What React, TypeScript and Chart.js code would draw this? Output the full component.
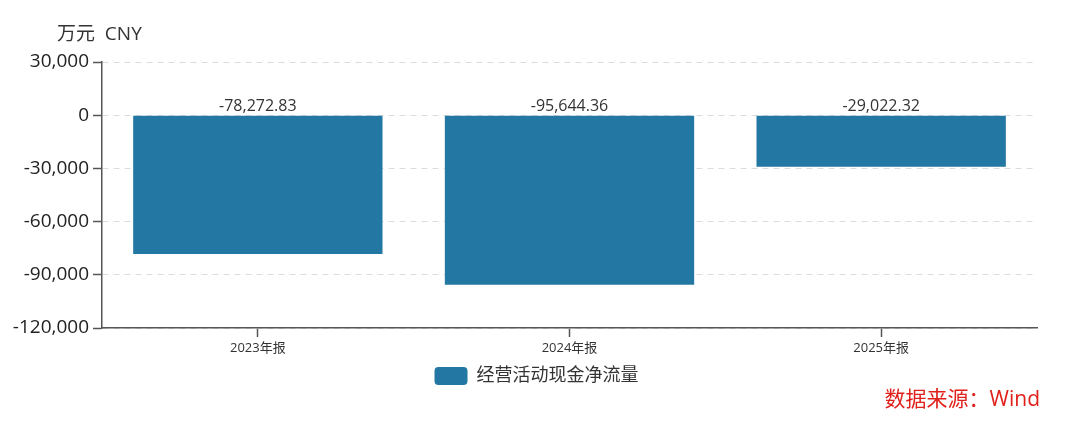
import React, { useEffect, useRef } from "react";
import { Chart, registerables } from "chart.js";

Chart.register(...registerables);

const categories = ["2023年报", "2024年报", "2025年报"];
const seriesName = "经营活动现金净流量";
const values = [-78272.83, -95644.36, -29022.32];
const yMin = -120000;
const yMax = 30000;
const yStep = 30000;
const unitLabel = "万元  CNY";
const sourceLabel = "数据来源：Wind";

const FONT = '"Open Sans", "Noto Sans CJK SC", sans-serif';
const BAR_COLOR = "#2377a3";

const fmt = (v: number, digits = 0) =>
  v.toLocaleString("en-US", { minimumFractionDigits: digits, maximumFractionDigits: digits });

const overlayPlugin = {
  id: "overlay",
  afterLayout(chart: any) {
    // center the legend on the page rather than on the padded area
    if (chart.legend) {
      chart.legend.left = 0;
      chart.legend.right = chart.width - 7;
    }
  },
  afterDatasetsDraw(chart: any) {
    const ctx = chart.ctx;
    ctx.save();
    const meta = chart.getDatasetMeta(0);
    ctx.font = `16px ${FONT}`;
    ctx.fillStyle = "#333";
    ctx.textAlign = "center";
    ctx.textBaseline = "bottom";
    meta.data.forEach((el: any, i: number) => {
      const v = chart.data.datasets[0].data[i] as number;
      ctx.fillText(fmt(v, 2), el.x, el.base - 1.5);
    });
    ctx.restore();
  },
  afterDraw(chart: any) {
    const ctx = chart.ctx;
    ctx.save();
    ctx.font = `19px ${FONT}`;
    ctx.fillStyle = "#333";
    ctx.textAlign = "left";
    ctx.textBaseline = "middle";
    ctx.fillText(unitLabel, 57, 35);
    ctx.font = `21px ${FONT}`;
    ctx.fillStyle = "#e0201b";
    ctx.textAlign = "right";
    ctx.fillText(sourceLabel, chart.width - 40, 400);
    ctx.restore();
  },
};

export default function App() {
  const ref = useRef<HTMLCanvasElement | null>(null);
  useEffect(() => {
    if (!ref.current) return;
    const chart = new Chart(ref.current, {
      type: "bar",
      data: {
        labels: categories,
        datasets: [
          {
            label: seriesName,
            data: values,
            backgroundColor: BAR_COLOR,
            borderWidth: 0,
            barPercentage: 0.8,
            categoryPercentage: 1,
          },
        ],
      },
      options: {
        animation: false,
        responsive: false,
        maintainAspectRatio: false,
        layout: { padding: { top: 62, left: 0, right: 43, bottom: 34 } },
        plugins: {
          tooltip: { enabled: false },
          legend: {
            position: "bottom",
            labels: {
              boxWidth: 33,
              boxHeight: 18,
              padding: 10,
              color: "#333",
              font: { size: 18, family: FONT },
              useBorderRadius: true,
              borderRadius: 4,
            } as any,
          },
        },
        scales: {
          x: {
            afterFit: (s: any) => {
              s.height = 29;
            },
            grid: {
              offset: false,
              drawOnChartArea: false,
              drawTicks: true,
              tickLength: 9,
              tickColor: "#555",
              tickWidth: 1.5,
            },
            border: { display: true, color: "#555", width: 1.5 },
            ticks: { color: "#333", font: { size: 13, family: FONT }, padding: 3 },
          },
          y: {
            min: yMin,
            max: yMax,
            afterFit: (s: any) => {
              s.width = 102;
            },
            ticks: {
              stepSize: yStep,
              color: "#222",
              font: { size: 19, family: FONT },
              padding: 4,
              callback: (v: any) => fmt(Number(v)),
            },
            grid: {
              color: "#dcdcdc",
              lineWidth: 1,
              drawTicks: true,
              tickLength: 9,
              tickColor: "#555",
              tickWidth: 1.5,
              tickBorderDash: [],
            } as any,
            border: { display: true, color: "#555", width: 1.5, dash: [6, 5] },
          },
        },
      },
      plugins: [overlayPlugin],
    });
    return () => chart.destroy();
  }, []);
  return (
    <div style={{ position: "fixed", left: 0, top: 0, width: 1080, height: 429, background: "#fff" }}>
      <canvas ref={ref} width={1080} height={429} style={{ width: 1080, height: 429 }} />
    </div>
  );
}
